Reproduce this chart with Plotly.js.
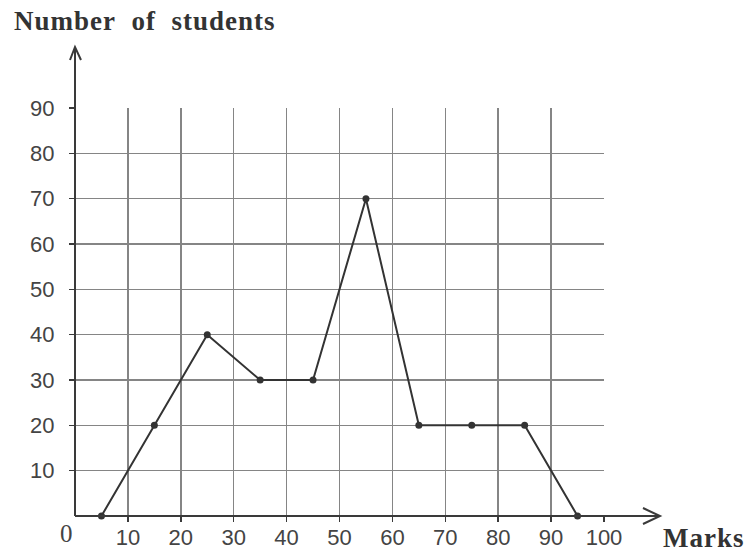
<!DOCTYPE html>
<html>
<head>
<meta charset="utf-8">
<script src="https://cdn.plot.ly/plotly-3.0.1.min.js"></script>
<style>
html,body{margin:0;padding:0;background:#fff;}
#chart{width:756px;height:552px;}
.annotation-text{letter-spacing:1px;}
</style>
</head>
<body>
<div id="chart"></div>
<script>
// Class mid-points (marks) and frequencies (number of students)
var marks = [5, 15, 25, 35, 45, 55, 65, 75, 85, 95];
var students = [0, 20, 40, 30, 30, 70, 20, 20, 20, 0];
var xTicks = [10, 20, 30, 40, 50, 60, 70, 80, 90, 100];
var yTicks = [10, 20, 30, 40, 50, 60, 70, 80, 90];

// plot area in pixels
var L = 75, R = 604, T = 108, B = 516;
function px(x){ return (x - L) / (R - L); }
function py(y){ return (B - y) / (B - T); }

var axisColor = '#3a3a3a';
var serif = 'Liberation Serif, Times New Roman, serif';

var trace = {
  x: marks, y: students, type: 'scatter', mode: 'lines+markers',
  line: {color: '#333', width: 2},
  marker: {color: '#333', size: 7},
  cliponaxis: false, hoverinfo: 'x+y'
};

var layout = {
  width: 756, height: 552,
  margin: {l: L, r: 756 - R, t: T, b: 552 - B, pad: 0},
  paper_bgcolor: '#fff', plot_bgcolor: '#fff',
  showlegend: false,
  font: {family: 'Liberation Sans, Arial, sans-serif', color: '#444', size: 22},
  xaxis: {
    range: [0, 100], tickvals: xTicks, ticktext: xTicks.map(String),
    showgrid: true, gridcolor: '#858585', gridwidth: 1.5,
    showline: false, zeroline: false,
    ticks: 'outside', ticklen: 5, tickcolor: axisColor, tickwidth: 1.5,
    ticklabelstandoff: -3,
    tickfont: {size: 22, color: '#444'}, fixedrange: true
  },
  yaxis: {
    range: [0, 90], tickvals: yTicks, ticktext: yTicks.map(String),
    showgrid: true, gridcolor: '#858585', gridwidth: 1.5,
    showline: false, zeroline: false,
    ticks: 'outside', ticklen: 5, tickcolor: axisColor, tickwidth: 1.5,
    ticklabelstandoff: 10,
    tickfont: {size: 22, color: '#444'}, fixedrange: true
  },
  shapes: [
    // x axis with arrow
    {type: 'line', xref: 'paper', yref: 'paper', x0: 0, y0: 0, x1: px(660), y1: 0,
     line: {color: axisColor, width: 2}},
    {type: 'path', xref: 'paper', yref: 'paper',
     path: 'M ' + px(643) + ' ' + py(508) + ' L ' + px(660) + ' ' + py(516) + ' L ' + px(643) + ' ' + py(524),
     line: {color: axisColor, width: 2}},
    // y axis with arrow
    {type: 'line', xref: 'paper', yref: 'paper', x0: 0, y0: 0, x1: 0, y1: py(47),
     line: {color: axisColor, width: 2}},
    {type: 'path', xref: 'paper', yref: 'paper',
     path: 'M ' + px(70) + ' ' + py(60) + ' L ' + px(75) + ' ' + py(47) + ' L ' + px(81) + ' ' + py(60),
     line: {color: axisColor, width: 2}}
  ],
  annotations: [
    {text: '<b>Number&nbsp; of&nbsp; students</b>', xref: 'paper', yref: 'paper',
     x: px(12), y: py(21), xanchor: 'left', yanchor: 'middle', showarrow: false,
     font: {family: serif, size: 27, color: '#333'}},
    {text: '<b>Marks</b>', xref: 'paper', yref: 'paper',
     x: px(661), y: py(538), xanchor: 'left', yanchor: 'middle', showarrow: false,
     font: {family: serif, size: 27, color: '#333'}},
    {text: '0', xref: 'paper', yref: 'paper',
     x: px(67), y: py(533), xanchor: 'center', yanchor: 'middle', showarrow: false,
     font: {family: serif, size: 25, color: '#444'}}
  ]
};

Plotly.newPlot('chart', [trace], layout, {displayModeBar: false, staticPlot: true});
</script>
</body>
</html>
